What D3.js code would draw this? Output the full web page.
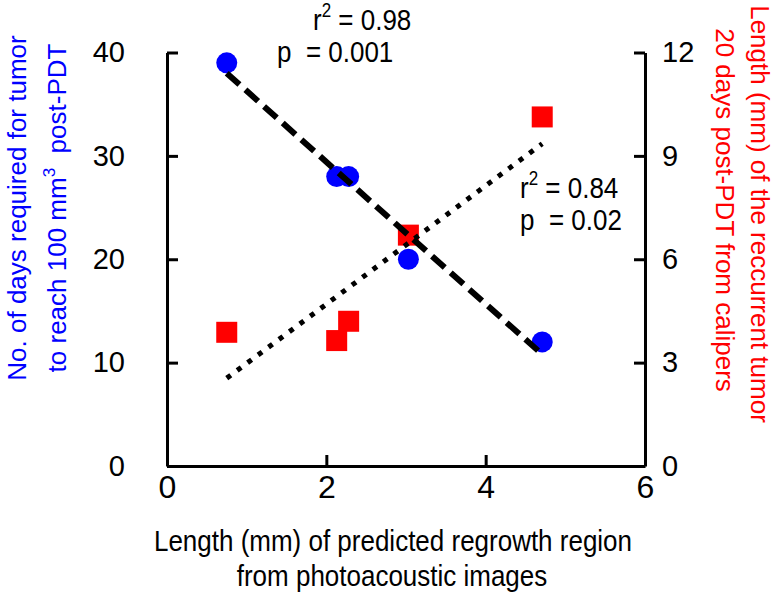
<!DOCTYPE html>
<html>
<head>
<meta charset="utf-8">
<script src="https://cdn.jsdelivr.net/npm/d3@7"></script>
<style>
  body { margin: 0; background: #fff; }
  svg { font-family: "Liberation Sans", Arial, sans-serif; }
</style>
</head>
<body>
<div id="chart"></div>
<script>
// Dades llegides de la imatge
const regrowthLength = [0.75, 2.13, 2.28, 3.03, 4.71];   // eix X (mm)
const daysTo100 = [39, 28, 28, 20, 12];                  // eix esquerre (dies)
const recurrentLength = [3.88, 3.64, 4.2, 6.7, 10.13];   // eix dret (mm)

// Rectes de regressió (extrems llegits del gràfic)
const daysFit = [[0.75, 38.0], [4.71, 10.8]];
const lengthFit = [[0.75, 2.55], [4.71, 9.35]];

const xTicks = [0, 2, 4, 6];
const leftTicks = [0, 10, 20, 30, 40];
const rightTicks = [0, 3, 6, 9, 12];

const W = 781, H = 597;
const plot = { left: 167, right: 645, top: 52.5, bottom: 466 };
const stretch = 1.15; // el text original és una mica més alt

const svg = d3.select("#chart")
    .append("svg")
    .attr("width", W)
    .attr("height", H);

const x = d3.scaleLinear().domain([0, 6]).range([plot.left, plot.right]);
const yLeft = d3.scaleLinear().domain([0, 40]).range([plot.bottom, plot.top]);
const yRight = d3.scaleLinear().domain([0, 12]).range([plot.bottom, plot.top]);

// Eixos
function styleAxis(g, size) {
    g.selectAll("path, line").attr("stroke", "#000").attr("stroke-width", 3);
    g.selectAll("text").attr("font-size", size).attr("fill", "#000")
        .attr("font-family", "Liberation Sans, Arial, sans-serif");
}

svg.append("g")
    .attr("transform", `translate(0,${plot.bottom})`)
    .call(d3.axisBottom(x).tickValues(xTicks).tickFormat(d3.format("d"))
        .tickSizeInner(-11).tickSizeOuter(0).tickPadding(9))
    .call(g => styleAxis(g, 32));

svg.append("g")
    .attr("transform", `translate(${plot.left},0)`)
    .call(d3.axisLeft(yLeft).tickValues(leftTicks).tickSizeInner(-11).tickSizeOuter(0).tickPadding(42))
    .call(g => styleAxis(g, 29));

svg.append("g")
    .attr("transform", `translate(${plot.right},0)`)
    .call(d3.axisRight(yRight).tickValues(rightTicks).tickSizeInner(-11).tickSizeOuter(0).tickPadding(17))
    .call(g => styleAxis(g, 29));

// Punts: dies (cercles blaus)
svg.append("g").selectAll("circle")
    .data(regrowthLength.map((v, i) => ({ x: v, y: daysTo100[i] })))
    .enter()
    .append("circle")
    .attr("cx", d => x(d.x))
    .attr("cy", d => yLeft(d.y))
    .attr("r", 10.5)
    .attr("fill", "#0000ff");

// Punts: longitud (quadrats vermells)
const sq = 21;
svg.append("g").selectAll("rect")
    .data(regrowthLength.map((v, i) => ({ x: v, y: recurrentLength[i] })))
    .enter()
    .append("rect")
    .attr("x", d => x(d.x) - sq / 2)
    .attr("y", d => yRight(d.y) - sq / 2)
    .attr("width", sq)
    .attr("height", sq)
    .attr("fill", "#ff0000");

// Rectes de tendència
svg.append("path")
    .datum(daysFit)
    .attr("d", d3.line().x(d => x(d[0])).y(d => yLeft(d[1])))
    .attr("stroke", "#000")
    .attr("stroke-width", 6)
    .attr("stroke-dasharray", "17,8")
    .attr("fill", "none");

svg.append("path")
    .datum(lengthFit)
    .attr("d", d3.line().x(d => x(d[0])).y(d => yRight(d[1])))
    .attr("stroke", "#000")
    .attr("stroke-width", 5)
    .attr("stroke-dasharray", "5,8")
    .attr("fill", "none");

// Text horitzontal una mica estirat en vertical
function hText(xPos, yPos, anchor) {
    return svg.append("text")
        .attr("transform", `translate(${xPos},${yPos}) scale(1,${stretch})`)
        .attr("text-anchor", anchor || "start")
        .attr("font-size", 26)
        .attr("fill", "#000")
        .attr("xml:space", "preserve");
}

// Anotacions r² i p
function statLabel(xPos, yPos, rText) {
    const t = hText(xPos, yPos);
    t.append("tspan").text("r");
    t.append("tspan").attr("font-size", 17).attr("dy", -11).text("2");
    t.append("tspan").attr("dy", 11).text(" = " + rText);
}
statLabel(313, 30, "0.98");
hText(277, 62).text("p  = 0.001");
statLabel(520, 198, "0.84");
hText(520, 230).text("p  = 0.02");

// Títol de l'eix X
hText(393, 551, "middle").text("Length (mm) of predicted regrowth region");
hText(392, 586, "middle").text("from photoacoustic images");

// Títol de l'eix esquerre
svg.append("text")
    .attr("transform", "translate(26,208) rotate(-90)")
    .attr("text-anchor", "middle").attr("font-size", 26).attr("fill", "#0000ff")
    .text("No. of days required for tumor");
const l2 = svg.append("text")
    .attr("transform", "translate(66,208) rotate(-90)")
    .attr("text-anchor", "middle").attr("font-size", 26).attr("fill", "#0000ff")
    .attr("xml:space", "preserve");
l2.append("tspan").text("to reach 100 mm");
l2.append("tspan").attr("font-size", 17).attr("dy", -11).text("3");
l2.append("tspan").attr("dy", 11).text("  post-PDT");

// Títol de l'eix dret
svg.append("text")
    .attr("transform", "translate(751,214) rotate(90)")
    .attr("text-anchor", "middle").attr("font-size", 26).attr("fill", "#ff0000")
    .text("Length (mm) of the reccurrent tumor");
svg.append("text")
    .attr("transform", "translate(716,210) rotate(90)")
    .attr("text-anchor", "middle").attr("font-size", 26).attr("fill", "#ff0000")
    .text("20 days post-PDT from calipers");
</script>
</body>
</html>
